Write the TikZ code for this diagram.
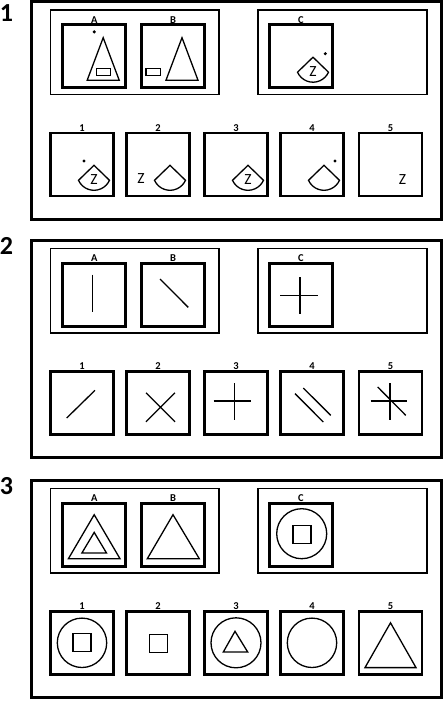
\documentclass[tikz,border=0pt]{standalone}
\usepackage{fontspec}
\setmainfont{Carlito}
\begin{document}
\begin{tikzpicture}[x=1pt, y=-1pt,
    pannello/.style={draw, line width=3pt},
    gruppo/.style={draw, line width=1.1pt},
    cella/.style={draw, line width=2.6pt, minimum size=63pt, inner sep=0pt, label distance=2.4pt},
    etich/.style={font=\bfseries\fontsize{10.5}{10.5}\selectfont, inner sep=0pt},
    numero/.style={font=\bfseries\fontsize{26}{26}\selectfont, inner sep=0pt},
    zeta/.style={font=\fontsize{15.5}{15.5}\selectfont, inner sep=0pt},
    segno/.style={line width=1.3pt},
    ventaglio/.pic={\draw[segno] (0,0) -- (-15.5,-15) arc[start angle=204.3, end angle=335.7, radius=17] -- cycle;}]
\useasboundingbox (0,0) rectangle (446,701);
% --- numeri ---
\node[numero] (n1) at (6.5,13) {1};
\node[numero] (n2) at (6.5,246) {2};
\node[numero] (n3) at (6.5,486) {3};
% --- riquadro 1 ---
\begin{scope}[shift={(0,1.5)}]
    \draw[pannello] (31.5,0) rectangle (441.5,217.5);
    \draw[gruppo] (50.5,8.5) rectangle (219,93);
    \draw[gruppo] (258,8.5) rectangle (427,93);
    \node[cella, label={[etich]above:A}] (uA) at (94.2,54.7) {};
    \node[cella, label={[etich]above:B}] (uB) at (173,54.7) {};
    \node[cella, label={[etich]above:C}] (uC) at (301,54.7) {};
    \foreach \x [count=\i] in {82,158,236,312,390.5}
        \node[cella, label={[etich]above:\i}] (u\i) at (\x,162.8) {};
\end{scope}
\begin{scope}[shift={(uA.center)}, y=1pt]
    \fill (0,24.3) circle (1.7);
    \draw[segno] (9,18.5) -- (-7,-24) -- (25,-24) -- cycle;
    \draw[segno] (2,-12) rectangle (16,-19.5);
\end{scope}
\begin{scope}[shift={(uB.center)}, y=1pt]
    \draw[segno] (9,18.5) -- (-7,-24) -- (25,-24) -- cycle;
    \draw[segno] (-27,-12) rectangle (-12.3,-19.5);
\end{scope}
\begin{scope}[shift={(uC.center)}, y=1pt]
    \fill (24.3,2.5) circle (1.7);
    \pic at (12,-1) {ventaglio};
    \node[zeta] (zC) at (12,-15) {Z};
\end{scope}
\begin{scope}[shift={(u1.center)}, y=1pt]
    \fill (2,3.3) circle (1.7);
    \pic at (12,-1) {ventaglio};
    \node[zeta] (z1) at (12,-15) {Z};
\end{scope}
\begin{scope}[shift={(u2.center)}, y=1pt]
    \pic at (12,-1) {ventaglio};
    \node[zeta] (z2) at (-17,-14.5) {Z};
\end{scope}
\begin{scope}[shift={(u3.center)}, y=1pt]
    \pic at (12,-1) {ventaglio};
    \node[zeta] (z3) at (12,-15) {Z};
\end{scope}
\begin{scope}[shift={(u4.center)}, y=1pt]
    \fill (23,3.3) circle (1.7);
    \pic at (12,-1) {ventaglio};
\end{scope}
\begin{scope}[shift={(u5.center)}, y=1pt]
    \node[zeta] (z5) at (12,-15) {Z};
\end{scope}
% --- riquadro 2 ---
\begin{scope}[shift={(0,240)}]
    \draw[pannello] (31.5,0) rectangle (441.5,217.5);
    \draw[gruppo] (50.5,8.5) rectangle (219,93);
    \draw[gruppo] (258,8.5) rectangle (427,93);
    \node[cella, label={[etich]above:A}] (dA) at (94.2,54.7) {};
    \node[cella, label={[etich]above:B}] (dB) at (173,54.7) {};
    \node[cella, label={[etich]above:C}] (dC) at (301,54.7) {};
    \foreach \x [count=\i] in {82,158,236,312,390.5}
        \node[cella, label={[etich]above:\i}] (d\i) at (\x,162.8) {};
\end{scope}
\begin{scope}[shift={(dA.center)}, y=1pt]
    \draw[segno] (-2,20) -- (-2,-17);
\end{scope}
\begin{scope}[shift={(dB.center)}, y=1pt]
    \draw[segno] (-13,15.7) -- (15.3,-12.7);
\end{scope}
\begin{scope}[shift={(dC.center)}, y=1pt]
    \draw[segno] (-21,-0.7) -- (16.7,-0.7) (-1,17.7) -- (-1,-19.3);
\end{scope}
\begin{scope}[shift={(d1.center)}, y=1pt]
    \draw[segno] (-15.3,-15.2) -- (13,12.5);
\end{scope}
\begin{scope}[shift={(d2.center)}, y=1pt]
    \draw[segno] (-12,10) -- (17,-19) (-12,-19) -- (17,10);
\end{scope}
\begin{scope}[shift={(d3.center)}, y=1pt]
    \draw[segno] (-22.3,1.8) -- (14.7,1.8) (-1.7,19.8) -- (-1.7,-17.5);
\end{scope}
\begin{scope}[shift={(d4.center)}, y=1pt]
    \draw[segno] (-17,9.2) -- (11.3,-19.2) (-8.7,14.8) -- (18.7,-12.5);
\end{scope}
\begin{scope}[shift={(d5.center)}, y=1pt]
    \draw[segno] (-19.8,1.8) -- (16.8,1.8) (-0.5,19.8) -- (-0.5,-17.5);
    \draw[segno] (-12.8,15.8) -- (15.2,-12.5);
\end{scope}
% --- riquadro 3 ---
\begin{scope}[shift={(0,480)}]
    \draw[pannello] (31.5,0) rectangle (441.5,217.5);
    \draw[gruppo] (50.5,8.5) rectangle (219,93);
    \draw[gruppo] (258,8.5) rectangle (427,93);
    \node[cella, label={[etich]above:A}] (tA) at (94.2,54.7) {};
    \node[cella, label={[etich]above:B}] (tB) at (173,54.7) {};
    \node[cella, label={[etich]above:C}] (tC) at (301,54.7) {};
    \foreach \x [count=\i] in {82,158,236,312,390.5}
        \node[cella, label={[etich]above:\i}] (t\i) at (\x,162.8) {};
\end{scope}
\begin{scope}[shift={(tA.center)}, y=1pt]
    \draw[segno] (0,20) -- (-25.8,-24) -- (25.8,-24) -- cycle;
    \draw[segno] (0,2.3) -- (-12.3,-18.3) -- (12.3,-18.3) -- cycle;
\end{scope}
\begin{scope}[shift={(tB.center)}, y=1pt]
    \draw[segno] (0,20) -- (-25.7,-24) -- (26.3,-24) -- cycle;
\end{scope}
\begin{scope}[shift={(tC.center)}, y=1pt]
    \draw[segno] (0.7,1) circle (25);
    \draw[segno] (-8,-9) rectangle (10,9);
\end{scope}
\begin{scope}[shift={(t1.center)}, y=1pt]
    \draw[segno] (0,0) circle (24.7);
    \draw[segno] (-9,-9) rectangle (9,9);
\end{scope}
\begin{scope}[shift={(t2.center)}, y=1pt]
    \draw[segno] (-8.5,-9.5) rectangle (9.5,8.5);
\end{scope}
\begin{scope}[shift={(t3.center)}, y=1pt]
    \draw[segno] (0,0) circle (25);
    \draw[segno] (-1,11.5) -- (-12.7,-9.2) -- (11.7,-9.2) -- cycle;
\end{scope}
\begin{scope}[shift={(t4.center)}, y=1pt]
    \draw[segno] (0,0) circle (24.7);
\end{scope}
\begin{scope}[shift={(t5.center)}, y=1pt]
    \draw[segno] (0,20) -- (-25.5,-24.8) -- (25.5,-24.8) -- cycle;
\end{scope}
\end{tikzpicture}
\end{document}
